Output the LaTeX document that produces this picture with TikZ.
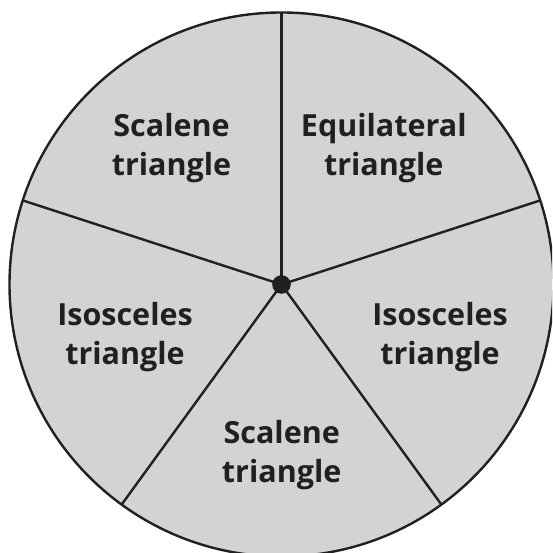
\documentclass[tikz,border=0pt]{standalone}
\usepackage{fontspec}
\setmainfont{Open Sans}
\usetikzlibrary{calc}
\definecolor{wheel}{HTML}{D1D3D4}
\definecolor{ink}{HTML}{231F20}
\tikzset{
  rim/.style={draw=ink, line width=2.4pt, fill=wheel},
  spoke/.style={draw=ink, line width=2.4pt},
  hub/.style={circle, fill=ink, minimum size=18.6pt, inner sep=0pt},
  lbl/.style={align=center, text=ink, font=\bfseries\fontsize{30.5}{39}\selectfont, inner sep=0pt}
}
\begin{document}
\begin{tikzpicture}[x=1pt,y=1pt]
\useasboundingbox (0,0) rectangle (552,553);
\clip (0,0) rectangle (552,553);
\coordinate (o) at (281.5,268.5);
\path[rim] (o) circle[radius=272];
\foreach \a/\n in {90/p1,162/p2,234/p3,306/p4,18/p5}{
  \coordinate (\n) at ($(o)+(\a:272)$);
}
\foreach \n in {p1,p2,p3,p4,p5}{
  \draw[spoke] (o) -- (\n);
}
\node[hub] (c) at (o) {};
\node[lbl] (s1) at (171.5,405) {Scalene\\triangle};
\node[lbl] (eq) at (383.8,405) {Equilateral\\triangle};
\node[lbl] (i1) at (125,216) {Isosceles\\triangle};
\node[lbl] (i2) at (440,216) {Isosceles\\triangle};
\node[lbl] (s2) at (281.7,98) {Scalene\\triangle};
\end{tikzpicture}
\end{document}
